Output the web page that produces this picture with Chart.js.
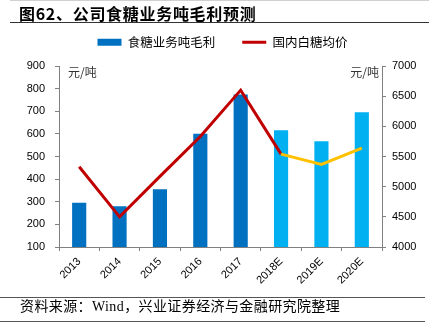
<!DOCTYPE html>
<html>
<head>
<meta charset="utf-8">
<script src="https://cdn.jsdelivr.net/npm/chart.js@4"></script>
<style>
  body { margin: 0; background: #fff; }
  #wrap { position: relative; width: 429px; height: 328px; overflow: hidden; }
  #myChart { position: absolute; left: 0; top: 0; }
  .title { position: absolute; left: 19px; top: 1px; font: bold 16px "Noto Sans CJK SC", sans-serif; letter-spacing: 0.7px; color: #000; white-space: nowrap; }
  .hline { position: absolute; height: 1px; }
  .src { position: absolute; left: 20px; top: 297px; font: 14px "Liberation Serif", "Noto Sans CJK SC", serif; letter-spacing: 0.4px; color: #000; white-space: nowrap; line-height: 20px; }
</style>
</head>
<body>
<div id="wrap">
  <canvas id="myChart" width="429" height="328"></canvas>
  <div class="title">图62、公司食糖业务吨毛利预测</div>
  <div class="hline" style="left:10px;top:0px;width:419px;background:#d0d0d0"></div>
  <div class="hline" style="left:10px;top:22px;width:419px;background:#333"></div>
  <div class="hline" style="left:0px;top:297px;width:425px;background:#555"></div>
  <div class="src">资料来源：Wind，兴业证券经济与金融研究院整理</div>
  <div class="hline" style="left:0px;top:321px;width:425px;background:#555"></div>
</div>
<script>
const years = ['2013', '2014', '2015', '2016', '2017', '2018E', '2019E', '2020E'];
const grossProfit = [300, 285, 360, 605, 778, 620, 572, 700];
const sugarPrice = [5330, 4500, 5170, 5830, 6600, 5540, 5370, 5640];
const barColors = ['#0070C0', '#0070C0', '#0070C0', '#0070C0', '#0070C0', '#00B0F0', '#00B0F0', '#00B0F0'];
const leftTicks = [100, 900, 100];
const rightTicks = [4000, 7000, 500];

Chart.defaults.font.family = '"Liberation Sans", Arial, sans-serif';
Chart.defaults.font.size = 11;
Chart.defaults.color = '#000';

const axisColor = '#808080';

const unitLabels = {
  id: 'unitLabels',
  afterInit(chart) {
    const fit = chart.legend.fit;
    chart.legend.fit = function () { fit.call(this); this.height = 57; };
  },
  afterLayout(chart) {
    // legend sits a bit right of the page centre
    chart.legend.left += 8;
    chart.legend.right += 8;
  },
  afterDraw(chart) {
    const c = chart.ctx, a = chart.chartArea;
    c.save();
    c.font = '12px "Noto Sans CJK SC", sans-serif';
    c.fillStyle = '#333';
    c.textBaseline = 'middle';
    c.textAlign = 'left';
    c.fillText('元/吨', a.left + 9, a.top + 6);
    c.textAlign = 'right';
    c.fillText('元/吨', a.right - 3, a.top + 6);
    c.restore();
  }
};

const ctx = document.getElementById('myChart').getContext('2d');
new Chart(ctx, {
  data: {
    labels: years,
    datasets: [{
      type: 'line',
      label: '国内白糖均价',
      data: sugarPrice,
      yAxisID: 'y1',
      borderColor: '#C00000',
      borderWidth: 3,
      pointRadius: 0,
      tension: 0,
      order: 0,
      segment: {
        borderColor: s => s.p0DataIndex >= 5 ? '#FFC000' : '#C00000'
      }
    }, {
      type: 'bar',
      label: '食糖业务吨毛利',
      data: grossProfit,
      yAxisID: 'y',
      backgroundColor: barColors,
      borderColor: 'rgba(255,255,255,0.35)',
      borderWidth: { left: 1, right: 1, top: 1, bottom: 0 },
      barPercentage: 0.4,
      categoryPercentage: 1,
      order: 1
    }]
  },
  options: {
    responsive: false,
    animation: false,
    layout: { padding: { top: 9, left: 0, right: 0, bottom: 0 } },
    plugins: {
      tooltip: { enabled: false },
      legend: {
        position: 'top',
        labels: {
          usePointStyle: true,
          pointStyleWidth: 24,
          boxHeight: 7,
          padding: 27,
          font: { family: '"Noto Sans CJK SC", sans-serif', size: 12.5 },
          generateLabels: () => [
            { text: '食糖业务吨毛利', fillStyle: '#0070C0', strokeStyle: '#0070C0', lineWidth: 0, pointStyle: 'rect', datasetIndex: 1 },
            { text: '国内白糖均价', fillStyle: '#C00000', strokeStyle: '#C00000', lineWidth: 3, pointStyle: 'line', datasetIndex: 0 }
          ]
        }
      }
    },
    scales: {
      x: {
        offset: true,
        grid: { offset: true, drawOnChartArea: false, drawTicks: true, tickLength: 4, color: axisColor },
        border: { color: axisColor, width: 1 },
        ticks: { maxRotation: 45, minRotation: 45, padding: 4 },
        afterFit(scale) { scale.height = 81; }
      },
      y: {
        position: 'left',
        min: leftTicks[0], max: leftTicks[1],
        grid: { drawOnChartArea: false, drawTicks: true, tickLength: 4, color: axisColor },
        border: { color: axisColor, width: 1 },
        ticks: { stepSize: leftTicks[2], padding: 10, callback: v => String(v) },
        afterFit(scale) { scale.width = 59; }
      },
      y1: {
        position: 'right',
        min: rightTicks[0], max: rightTicks[1],
        grid: { drawOnChartArea: false, drawTicks: true, tickLength: 4, color: axisColor },
        border: { color: axisColor, width: 1 },
        ticks: { stepSize: rightTicks[2], padding: 6, callback: v => String(v) },
        afterFit(scale) { scale.width = 47; }
      }
    }
  },
  plugins: [unitLabels]
});
</script>
</body>
</html>
